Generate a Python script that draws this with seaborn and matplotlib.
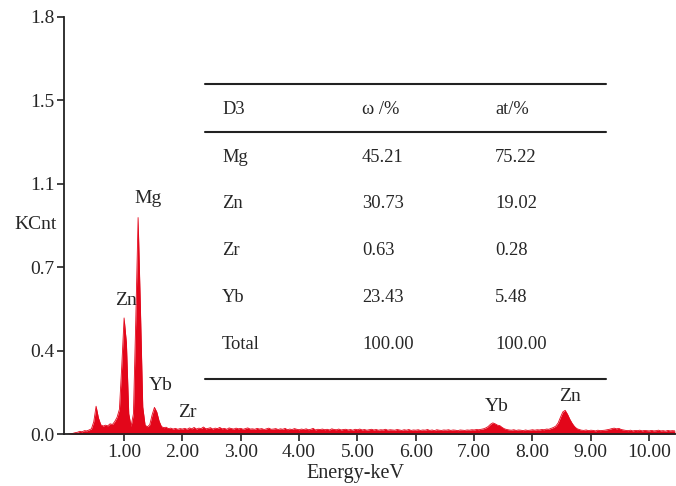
import numpy as np
import pandas as pd
import seaborn as sns
import matplotlib.pyplot as plt
from matplotlib.lines import Line2D

# EDS spectrum, channel width 0.04 keV starting at 0.04 keV
channel_width = 0.04
kcnt_low = [
    0.000, 0.002, 0.004, 0.007, 0.009, 0.013, 0.011, 0.016, 0.015, 0.019,
    0.024, 0.055, 0.123, 0.072, 0.042, 0.036, 0.040, 0.037, 0.046, 0.043,
    0.056, 0.075, 0.110, 0.300, 0.510, 0.400, 0.090, 0.035, 0.090, 0.500,
    0.950, 0.550, 0.120, 0.040, 0.033, 0.042, 0.085, 0.118, 0.098, 0.058,
    0.034, 0.029, 0.031, 0.025, 0.027, 0.023, 0.026, 0.022, 0.025, 0.023,
]
kcnt_high = [
    0.026, 0.022, 0.028, 0.024, 0.030, 0.023, 0.027, 0.025, 0.032, 0.024,
    0.026, 0.029, 0.023, 0.027, 0.025, 0.030, 0.024, 0.026, 0.022, 0.028,
    0.025, 0.023, 0.027, 0.024, 0.026, 0.022, 0.025, 0.028, 0.023, 0.024,
    0.022, 0.026, 0.023, 0.025, 0.021, 0.024, 0.027, 0.022, 0.023, 0.025,
    0.021, 0.024, 0.022, 0.026, 0.020, 0.023, 0.021, 0.025, 0.022, 0.020,
    0.023, 0.021, 0.024, 0.020, 0.022, 0.026, 0.019, 0.022, 0.021, 0.023,
    0.020, 0.022, 0.019, 0.024, 0.021, 0.020, 0.023, 0.019, 0.021, 0.022,
    0.019, 0.021, 0.018, 0.022, 0.020, 0.023, 0.019, 0.021, 0.018, 0.020,
    0.022, 0.019, 0.021, 0.018, 0.020, 0.019, 0.022, 0.018, 0.020, 0.019,
    0.018, 0.021, 0.019, 0.017, 0.020, 0.018, 0.021, 0.017, 0.019, 0.018,
    0.020, 0.017, 0.019, 0.018, 0.021, 0.017, 0.019, 0.016, 0.020, 0.018,
    0.017, 0.019, 0.018, 0.020, 0.017, 0.019, 0.018, 0.016, 0.019, 0.018,
    0.017, 0.019, 0.018, 0.020, 0.019, 0.021, 0.020, 0.022, 0.024, 0.028,
    0.034, 0.044, 0.050, 0.046, 0.040, 0.038, 0.030, 0.024, 0.021, 0.019,
    0.018, 0.020, 0.017, 0.019, 0.018, 0.016, 0.019, 0.017, 0.018, 0.020,
    0.018, 0.020, 0.019, 0.021, 0.020, 0.023, 0.022, 0.026, 0.030, 0.036,
    0.050, 0.075, 0.098, 0.105, 0.088, 0.066, 0.048, 0.034, 0.025, 0.021,
    0.018, 0.017, 0.019, 0.016, 0.018, 0.017, 0.015, 0.018, 0.016, 0.017,
    0.018, 0.020, 0.022, 0.025, 0.027, 0.024, 0.026, 0.021, 0.019, 0.017,
    0.016, 0.018, 0.015, 0.017, 0.016, 0.018, 0.015, 0.017, 0.016, 0.015,
    0.017, 0.015, 0.016, 0.018, 0.015, 0.016, 0.014, 0.017, 0.015, 0.016, 0.015,
]

# peak labels (element, energy keV, KCnt)
peak_names = ["Mg", "Zn", "Yb", "Zr", "Yb", "Zn"]
peak_x = [1.41, 1.03, 1.63, 2.08, 7.39, 8.65]
peak_y = [1.035, 0.585, 0.214, 0.096, 0.120, 0.166]

# composition table
table_header = ["D3", "ω /%", "at/%"]
elements = ["Mg", "Zn", "Zr", "Yb", "Total"]
wt_pct = ["45.21", "30.73", "0.63", "23.43", "100.00"]
at_pct = ["75.22", "19.02", "0.28", "5.48", "100.00"]

y_ticks = [0.0, 0.366, 0.732, 1.098, 1.464, 1.83]
y_ticklabels = ["0.0", "0.4", "0.7", "1.1", "1.5", "1.8"]
x_ticks = [1, 2, 3, 4, 5, 6, 7, 8, 9, 10]

kcnt = kcnt_low + kcnt_high
energy = np.round(channel_width * np.arange(1, len(kcnt) + 1), 2)
df = pd.DataFrame({"energy": energy, "kcnt": kcnt})

sns.set_style("ticks")
plt.rcParams["font.family"] = ["Liberation Serif", "DejaVu Serif"]

red = "#E3061A"
W, H = 676, 486
fig = plt.figure(figsize=(W / 100, H / 100), dpi=100)
ax = fig.add_axes([64 / W, (H - 434.3) / H, (W - 64) / W, 417.5 / H])

ax.fill_between(df["energy"], df["kcnt"], color=red, linewidth=0)
sns.lineplot(data=df, x="energy", y="kcnt", ax=ax, color=red, linewidth=0.6)

ax.set_xlim(-0.03, 10.46)
ax.set_ylim(0, 1.83)
ax.set_xticks(x_ticks)
ax.set_xticklabels([f"{t:.2f}" for t in x_ticks])
ax.set_yticks(y_ticks)
ax.set_yticklabels(y_ticklabels)
ax.tick_params(axis="both", length=5, width=1.2, pad=2, labelsize=14, color="#222222")
ax.set_xlabel("")
ax.set_ylabel("")
for s in ["top", "right"]:
    ax.spines[s].set_visible(False)
for s in ["left", "bottom"]:
    ax.spines[s].set_linewidth(1.3)
    ax.spines[s].set_color("#222222")

for name, x, y in zip(peak_names, peak_x, peak_y):
    ax.text(x, y, name, ha="center", va="center", fontsize=14)

fig.text(14 / W, 1 - 224 / H, "KCnt", ha="left", va="center", fontsize=14)
fig.text(355 / W, 1 - 473 / H, "Energy-keV", ha="center", va="center", fontsize=14.5)
fig.text(409 / W, 1 + 4 / H, "LSecs : 25", ha="center", va="center", fontsize=14)

# table drawn in figure pixels
for ly in [84, 132, 379]:
    fig.add_artist(Line2D([205 / W, 606 / W], [1 - ly / H, 1 - ly / H],
                          color="#222222", linewidth=1.5))
col_x = [222, 362, 495]
fs = 13.3
for cx, txt in zip(col_x, table_header):
    fig.text(cx / W, 1 - 109 / H, txt, ha="left", va="center", fontsize=fs)
row_y = [157.3, 204, 250.7, 297.7, 344.3]
for ry, el, w, a in zip(row_y, elements, wt_pct, at_pct):
    fig.text(col_x[0] / W, 1 - ry / H, el, ha="left", va="center", fontsize=fs)
    fig.text(col_x[1] / W, 1 - ry / H, w, ha="left", va="center", fontsize=fs)
    fig.text(col_x[2] / W, 1 - ry / H, a, ha="left", va="center", fontsize=fs)

fig.savefig("out.png", dpi=100)
